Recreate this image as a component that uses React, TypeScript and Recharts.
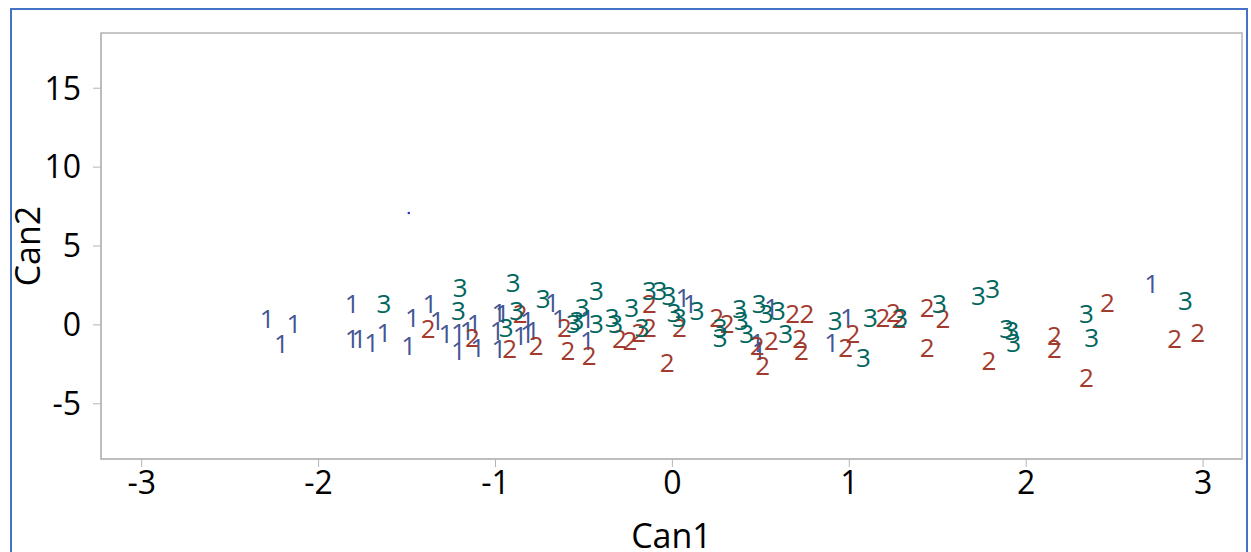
import React from 'react';
import { ScatterChart, Scatter, XAxis, YAxis, ReferenceArea } from 'recharts';

// canonical scores, one list per class: [Can1, Can2]
const group1: [number, number][] = [
  [-2.29, 0.44], [-2.21, -1.14], [-2.14, 0.13], [-1.81, 1.39], [-1.81, -0.82],
  [-1.77, -0.82], [-1.7, -1.08], [-1.63, -0.44], [-1.49, -1.27], [-1.47, 0.51],
  [-1.37, 1.39], [-1.33, 0.32], [-1.28, -0.51], [-1.21, -0.44], [-1.16, -0.32],
  [-1.12, 0.13], [-1.21, -1.58], [-1.1, -1.39], [-0.99, -0.32], [-0.96, 0.76],
  [-0.98, 0.82], [-0.98, -1.46], [-0.86, -0.63], [-0.82, -0.51], [-0.82, 0.32],
  [-0.79, -0.32], [-0.68, 1.46], [-0.64, 0.44], [-0.48, 0.44], [-0.48, -0.95],
  [0.06, 1.77], [0.1, 1.39], [0.56, 1.14], [0.48, -1.08], [0.49, -1.58],
  [0.99, 0.51], [0.9, -1.08], [2.71, 2.66],
];

const group2: [number, number][] = [
  [-1.38, -0.19], [-1.13, -0.76], [-0.86, 0.76], [-0.92, -1.46], [-0.77, -1.27],
  [-0.61, -0.13], [-0.59, -1.58], [-0.47, -1.9], [-0.3, -0.82], [-0.24, -0.95],
  [-0.19, -0.44], [-0.13, -0.13], [-0.13, 1.39], [0.04, -0.13], [-0.03, -2.34],
  [0.25, 0.51], [0.31, 0.13], [0.48, -1.27], [0.56, -0.95], [0.51, -2.53],
  [0.68, 0.76], [0.76, 0.76], [0.72, -0.82], [0.73, -1.58], [0.98, -1.39],
  [1.02, -0.51], [1.19, 0.51], [1.25, 0.82], [1.28, 0.44], [1.44, 1.14],
  [1.53, 0.44], [1.44, -1.39], [1.79, -2.22], [2.16, -0.63], [2.16, -1.46],
  [2.46, 1.46], [2.34, -3.29], [2.84, -0.82], [2.97, -0.44],
];

const group3: [number, number][] = [
  [-1.63, 1.39], [-1.2, 2.41], [-1.21, 0.95], [-0.9, 2.72], [-0.88, 0.95],
  [-0.94, -0.13], [-0.73, 1.71], [-0.43, 2.22], [-0.56, 0.13], [-0.54, 0.32],
  [-0.51, 1.14], [-0.43, 0.13], [-0.34, 0.51], [-0.32, 0.13], [-0.23, 1.14],
  [-0.17, -0.13], [-0.13, 2.22], [-0.07, 2.22], [-0.02, 1.9], [0.01, 0.82],
  [0.04, 0.51], [0.14, 0.95], [0.27, -0.13], [0.27, -0.76], [0.38, 1.08],
  [0.39, 0.32], [0.42, -0.51], [0.49, 1.39], [0.53, 0.76], [0.6, 0.95],
  [0.64, -0.51], [0.92, 0.32], [1.08, -2.03], [1.12, 0.51], [1.29, 0.51],
  [1.51, 1.39], [1.73, 1.9], [1.81, 2.34], [1.89, -0.19], [1.92, -0.32],
  [1.93, -1.08], [2.34, 0.76], [2.37, -0.76], [2.9, 1.58],
];

const outlier: [number, number][] = [[-1.49, 7.09]];

const xTicks = [-3, -2, -1, 0, 1, 2, 3];
const yTicks = [-5, 0, 5, 10, 15];

const toRows = (pts: [number, number][]) => pts.map(([x, y]) => ({ x, y }));

const COLORS = { '1': '#445694', '2': '#A23A2E', '3': '#01665E' };
const FONT = '"Open Sans", "DejaVu Sans", sans-serif';

const labelShape = (label: '1' | '2' | '3') => (props: any) => (
  <text
    x={props.cx}
    y={props.cy}
    textAnchor="middle"
    dominantBaseline="central"
    fill={COLORS[label]}
    fontSize={26}
    fontFamily={FONT}
  >
    {label}
  </text>
);

const dotShape = (props: any) => <circle cx={props.cx} cy={props.cy} r={1.3} fill="#2b35c9" />;

const tickStyle = { fontSize: 32, fill: '#000', fontFamily: FONT };
const titleStyle = { fontSize: 34, fill: '#000', fontFamily: FONT };

export default function App() {
  return (
    <div style={{ position: 'absolute', left: 0, top: 0, width: 1251, height: 552, background: '#fff', overflow: 'hidden' }}>
      <div
        style={{
          position: 'absolute',
          left: 10,
          top: 8,
          width: 1238,
          height: 560,
          border: '2px solid #4472C4',
          boxSizing: 'border-box',
        }}
      />
      <ScatterChart width={1251} height={552} margin={{ top: 33, right: 9, bottom: 0, left: 0 }}>
        <ReferenceArea x1={-3.23} x2={3.22} y1={-8.5} y2={18.5} fill="none" stroke="#b4b4b4" strokeWidth={1.5} ifOverflow="visible" />
        <XAxis
          type="number"
          dataKey="x"
          domain={[-3.23, 3.22]}
          ticks={xTicks}
          height={93}
          tick={tickStyle}
          tickSize={8}
          tickMargin={4}
          stroke="#b4b4b4"
          allowDataOverflow
          label={{ value: 'Can1', position: 'insideBottom', offset: 4, style: titleStyle }}
        />
        <YAxis
          type="number"
          dataKey="y"
          domain={[-8.5, 18.5]}
          ticks={yTicks}
          width={101}
          tick={tickStyle}
          tickSize={8}
          tickMargin={12}
          stroke="#b4b4b4"
          allowDataOverflow
          label={{ value: 'Can2', angle: -90, position: 'insideLeft', offset: 28, style: { ...titleStyle, textAnchor: 'middle' } }}
        />
        <Scatter data={toRows(group1)} shape={labelShape('1')} isAnimationActive={false} />
        <Scatter data={toRows(group2)} shape={labelShape('2')} isAnimationActive={false} />
        <Scatter data={toRows(group3)} shape={labelShape('3')} isAnimationActive={false} />
        <Scatter data={toRows(outlier)} shape={dotShape} isAnimationActive={false} />
      </ScatterChart>
    </div>
  );
}
